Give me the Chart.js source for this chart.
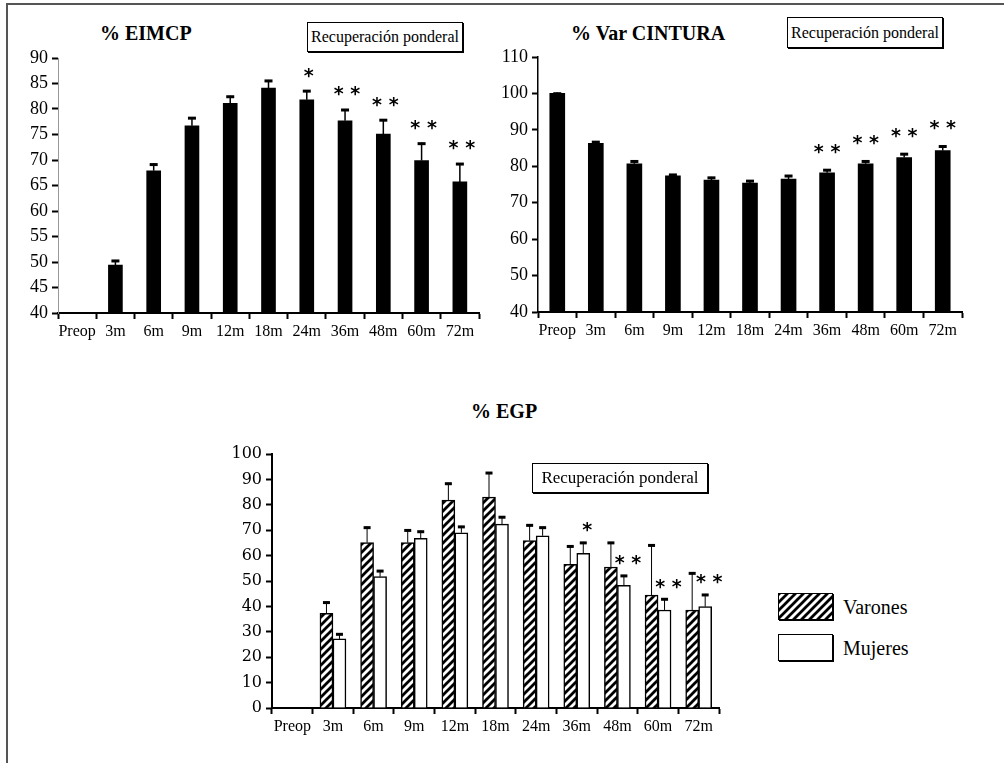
<!DOCTYPE html>
<html><head><meta charset="utf-8">
<script src="https://cdn.jsdelivr.net/npm/chart.js@4.4.0/dist/chart.umd.min.js"></script>
<style>
body{margin:0;background:#fff;width:1004px;height:763px;overflow:hidden;position:relative;font-family:'Liberation Serif',serif;color:#000;}
.ft{position:absolute;left:6px;top:3px;width:998px;height:2px;background:#555;}
.fl{position:absolute;left:6px;top:3px;width:2px;height:760px;background:#555;}
.title{position:absolute;font-weight:bold;font-size:20px;line-height:20px;white-space:nowrap;}
.rbox{position:absolute;border:1px solid #000;box-shadow:1px 1px 0 #000;display:flex;align-items:center;justify-content:center;white-space:nowrap;box-sizing:border-box;background:#fff;}
.cw{position:absolute;}
.lg{position:absolute;box-sizing:border-box;border:1.5px solid #000;box-shadow:1px 1px 0 #000;}
.lt{position:absolute;font-size:20px;line-height:20px;white-space:nowrap;}
</style>
</head><body>
<div class="ft"></div><div class="fl"></div>

<div class="title" style="left:100px;top:23px;">% EIMCP</div>
<div class="rbox" style="left:307px;top:22px;width:156px;height:30px;font-size:16px;">Recuperación ponderal</div>
<div class="cw" style="left:10px;top:40px;"><canvas id="c1" width="480" height="310"></canvas></div>

<div class="title" style="left:571px;top:23px;">% Var CINTURA</div>
<div class="rbox" style="left:787px;top:17px;width:156px;height:31px;font-size:16px;">Recuperación ponderal</div>
<div class="cw" style="left:490px;top:40px;"><canvas id="c2" width="500" height="310"></canvas></div>

<div class="title" style="left:471px;top:401px;">% EGP</div>
<div class="cw" style="left:220px;top:430px;"><canvas id="c3" width="520" height="320"></canvas></div>
<div class="rbox" style="left:532px;top:463px;width:176px;height:30px;font-size:17px;">Recuperación ponderal</div>

<div class="lg" id="lgV" style="left:778px;top:593px;width:55px;height:27px;"></div>
<div class="lt" style="left:843px;top:597px;">Varones</div>
<div class="lg" style="left:778px;top:634px;width:55px;height:27px;background:#fff;"></div>
<div class="lt" style="left:843px;top:638px;">Mujeres</div>

<script>
// ---- data ----
const categories = ['Preop','3m','6m','9m','12m','18m','24m','36m','48m','60m','72m'];

const eimcpMean = [null, 49.4, 67.9, 76.7, 81.1, 84.1, 81.8, 77.7, 75.1, 69.9, 65.7];
const eimcpErr  = [null, 1.0, 1.4, 1.7, 1.5, 1.6, 1.9, 2.3, 2.9, 3.5, 3.7];
const eimcpSig  = ['', '', '', '', '', '', '*', '* *', '* *', '* *', '* *'];

const cinturaMean = [100, 86.3, 80.7, 77.4, 76.2, 75.4, 76.5, 78.2, 80.7, 82.4, 84.3];
const cinturaErr  = [0.2, 0.6, 0.9, 0.5, 0.9, 0.8, 1.1, 1.0, 0.9, 1.2, 1.4];
const cinturaSig  = ['', '', '', '', '', '', '', '* *', '* *', '* *', '* *'];

const egpVarones    = [null, 37.3, 65.1, 65.1, 81.9, 83.0, 65.9, 56.6, 55.5, 44.5, 38.6];
const egpVaronesErr = [null, 4.6, 6.3, 5.2, 6.8, 9.9, 6.4, 7.4, 9.9, 19.9, 14.8];
const egpMujeres    = [null, 27.2, 51.7, 66.8, 69.0, 72.4, 67.8, 60.9, 48.3, 38.6, 39.9];
const egpMujeresErr = [null, 2.2, 2.6, 3.0, 2.7, 3.1, 3.6, 4.5, 4.1, 4.6, 5.0];
const egpMujeresSig = ['', '', '', '', '', '', '', '*', '* *', '* *', '* *'];

const seriesNames = ['Varones', 'Mujeres'];

// ---- helpers ----
function hatch(){
  const c = document.createElement('canvas'); c.width = 8; c.height = 8;
  const g = c.getContext('2d');
  g.fillStyle = '#fff'; g.fillRect(0,0,8,8);
  g.strokeStyle = '#000'; g.lineWidth = 2.8; g.lineCap='square';
  g.beginPath();
  g.moveTo(-2,10); g.lineTo(10,-2);
  g.moveTo(-6,6); g.lineTo(6,-6);
  g.moveTo(2,14); g.lineTo(14,2);
  g.stroke();
  return c;
}
const hatchCanvas = hatch();
document.getElementById('lgV').style.backgroundImage = 'url(' + hatchCanvas.toDataURL() + ')';
const c3ctx = document.getElementById('c3').getContext('2d');
const hatchPattern = c3ctx.createPattern(hatchCanvas, 'repeat');

const errorBars = {
  id: 'errorBars',
  afterDatasetsDraw(chart, args, o){
    const ctx = chart.ctx, ys = chart.scales.y;
    chart.data.datasets.forEach((ds, di) => {
      if (!ds.errors) return;
      const meta = chart.getDatasetMeta(di);
      meta.data.forEach((el, i) => {
        const v = ds.data[i], e = ds.errors[i];
        if (v == null || e == null) return;
        const top = ys.getPixelForValue(v + e);
        ctx.save();
        ctx.strokeStyle = '#000';
        ctx.lineWidth = o.stem;
        ctx.beginPath(); ctx.moveTo(el.x, el.y); ctx.lineTo(el.x, top); ctx.stroke();
        ctx.fillStyle = '#000';
        ctx.fillRect(el.x - o.capW/2, top - 0.5, o.capW, o.capH);
        const s = ds.sig && ds.sig[i];
        if (s){
          ctx.font = o.starFont; ctx.textAlign = 'center'; ctx.textBaseline = 'top';
          ctx.fillText(s, el.x + o.starDx, top - o.starDy);
        }
        ctx.restore();
      });
    });
  }
};

function xAxis(h){
  return {
    type:'category', offset:true,
    grid:{display:true, drawOnChartArea:false, drawTicks:true, tickLength:6, tickWidth:2, tickColor:'#000', offset:true},
    border:{display:true, color:'#000', width:2},
    ticks:{color:'#000', font:{family:'Liberation Serif', size:16}, padding:3, maxRotation:0, autoSkip:false},
    afterFit(s){ s.height = h; }
  };
}
function yAxis(min, max, step, w, bcol, bw, fam, size){
  return {
    min, max,
    grid:{display:true, drawOnChartArea:false, drawTicks:true, tickLength:6, tickWidth:2, tickColor:'#000'},
    border:{display:true, color:bcol, width:bw},
    ticks:{stepSize:step, color:'#000', font:{family:fam, size:size}, padding:4},
    afterFit(s){ s.width = w; }
  };
}
const baseOpts = {
  responsive:false, animation:false, devicePixelRatio:1,
  plugins:{legend:{display:false}, tooltip:{enabled:false}, title:{display:false}}
};
const STAR = 'bold 19px "DejaVu Sans"';

// ---- chart 1 ----
new Chart(document.getElementById('c1'), {
  type:'bar',
  data:{labels:categories, datasets:[{data:eimcpMean, errors:eimcpErr, sig:eimcpSig,
    backgroundColor:'#000', borderWidth:0, barThickness:14}]},
  options:Object.assign({}, baseOpts, {
    layout:{padding:{top:18, right:11, left:0, bottom:0}},
    scales:{x:xAxis(37), y:yAxis(40, 90, 5, 48, '#999', 1, 'Liberation Serif', 18)},
    plugins:Object.assign({}, baseOpts.plugins, {errorBars:{stem:1.5, capW:8, capH:3, starFont:STAR, starDx:2, starDy:23}})
  }),
  plugins:[errorBars]
});

// ---- chart 2 ----
new Chart(document.getElementById('c2'), {
  type:'bar',
  data:{labels:categories, datasets:[{data:cinturaMean, errors:cinturaErr, sig:cinturaSig,
    backgroundColor:'#000', borderWidth:0, barThickness:15}]},
  options:Object.assign({}, baseOpts, {
    layout:{padding:{top:17, right:28, left:0, bottom:0}},
    scales:{x:xAxis(38), y:yAxis(40, 110, 10, 48, '#000', 1.5, 'Liberation Serif', 18)},
    plugins:Object.assign({}, baseOpts.plugins, {errorBars:{stem:1.5, capW:8, capH:3, starFont:STAR, starDx:0, starDy:26}})
  }),
  plugins:[errorBars]
});

// ---- chart 3 ----
new Chart(c3ctx, {
  type:'bar',
  data:{labels:categories, datasets:[
    {label:seriesNames[0], data:egpVarones, errors:egpVaronesErr,
      backgroundColor:hatchPattern, borderColor:'#000', borderWidth:1.5, barThickness:13},
    {label:seriesNames[1], data:egpMujeres, errors:egpMujeresErr, sig:egpMujeresSig,
      backgroundColor:'#fff', borderColor:'#000', borderWidth:1.5, barThickness:13}
  ]},
  options:Object.assign({}, baseOpts, {
    layout:{padding:{top:24, right:21, left:0, bottom:0}},
    scales:{x:xAxis(42), y:yAxis(0, 100, 10, 52, '#000', 2, 'DejaVu Serif', 16)},
    plugins:Object.assign({}, baseOpts.plugins, {errorBars:{stem:1, capW:7, capH:3, starFont:STAR, starDx:4, starDy:20}})
  }),
  plugins:[errorBars]
});
</script>
</body></html>
